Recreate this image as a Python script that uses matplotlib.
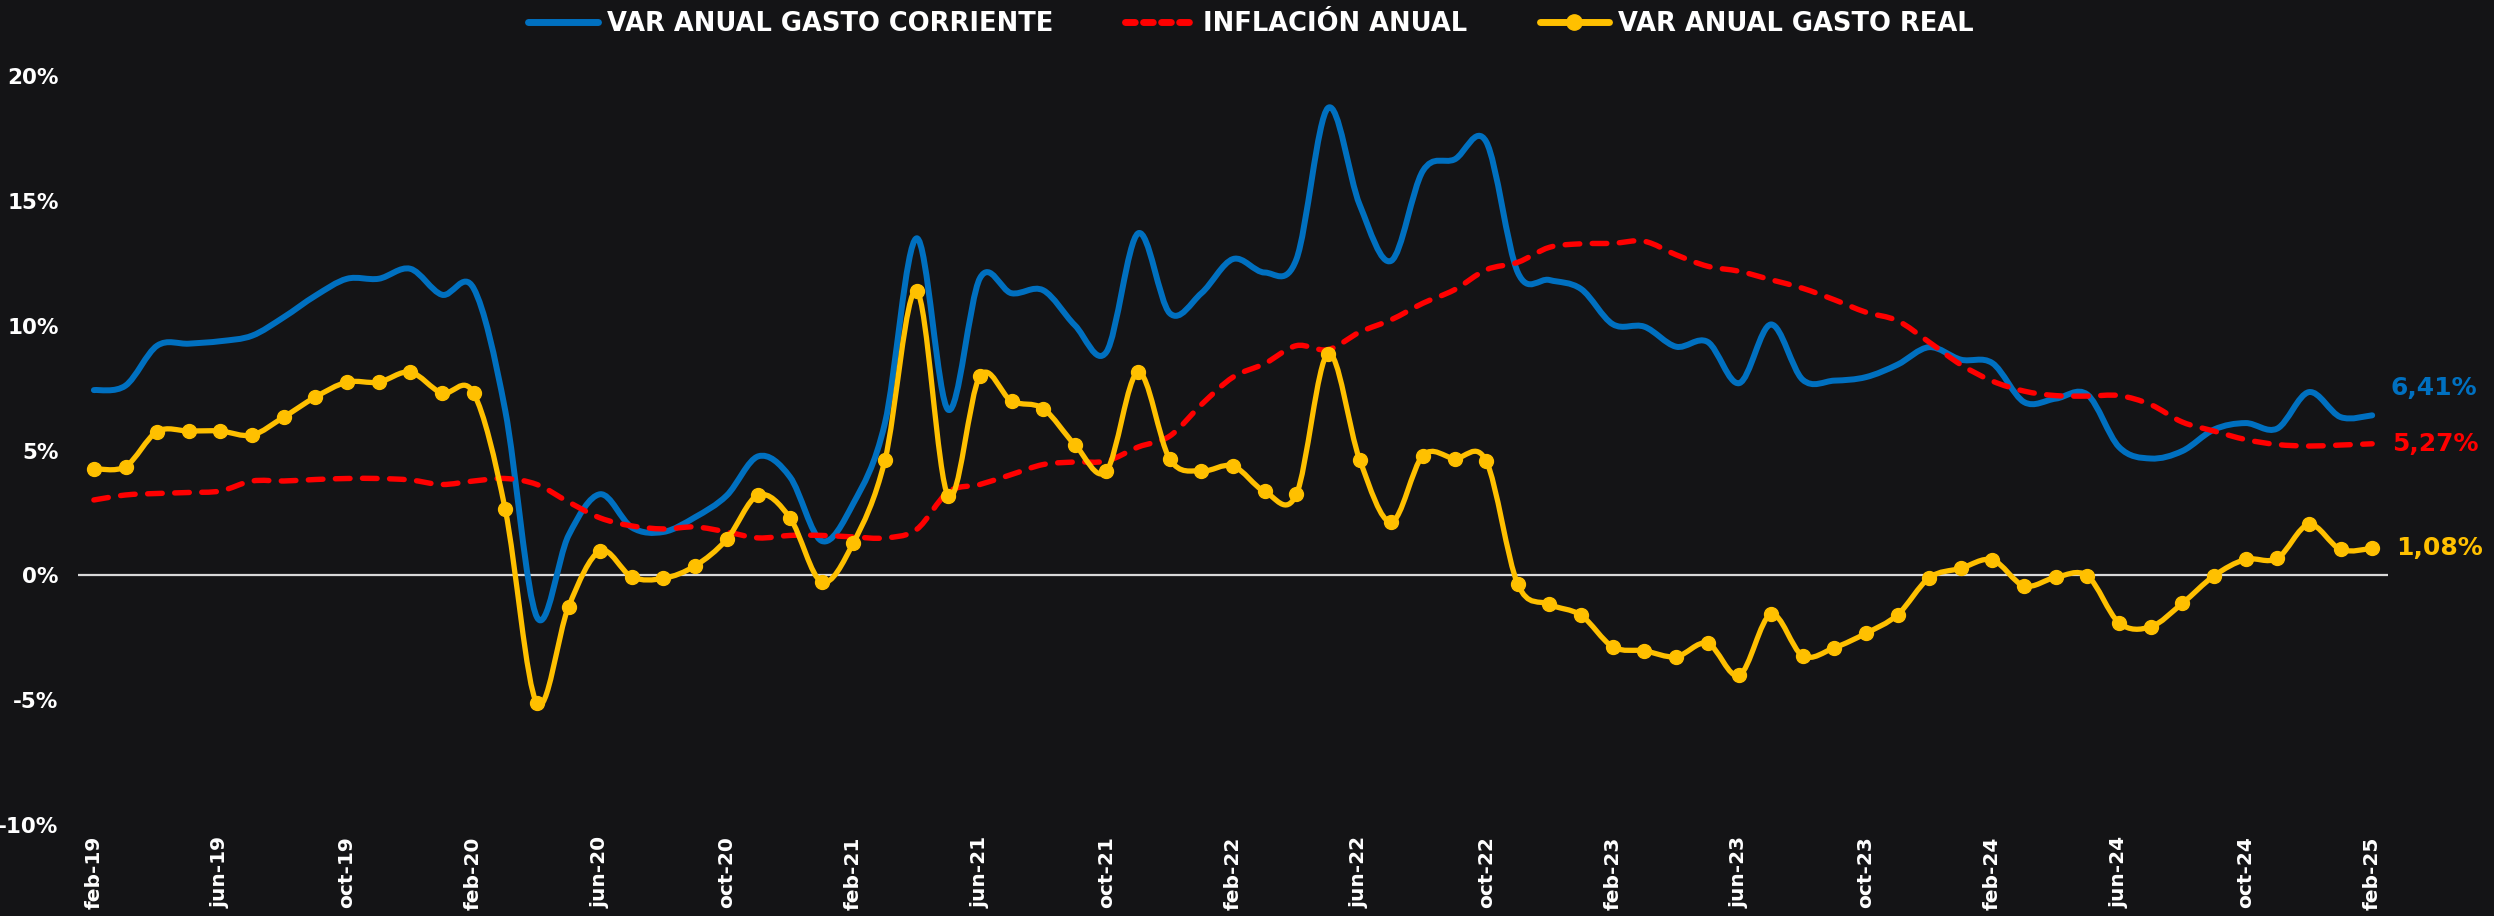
import matplotlib
matplotlib.use("Agg")
import matplotlib.pyplot as plt
from matplotlib.path import Path
from matplotlib.patches import PathPatch
from matplotlib.lines import Line2D

# monthly data feb-19 .. feb-25 (%)
months = ["feb", "mar", "abr", "may", "jun", "jul", "ago", "sep", "oct", "nov", "dic", "ene"]
labels = [f"{months[i % 12]}-{19 + (i + 1) // 12}" for i in range(73)]

gasto_corriente = [
    7.42, 7.6, 9.2, 9.28, 9.38, 9.6, 10.34, 11.2, 11.88, 11.88, 12.28, 11.24,
    11.5, 6.6, -1.67, 1.6, 3.25, 1.92, 1.74, 2.33, 3.2, 4.77, 3.94, 1.38,
    2.88, 6.1, 13.5, 6.63, 11.9, 11.3, 11.42, 10.02, 8.95, 13.7, 10.5, 11.3,
    12.67, 12.13, 12.65, 18.72, 14.85, 12.6, 16.2, 16.66, 17.37, 12.13, 11.83, 11.47,
    10.06, 9.96, 9.16, 9.35, 7.7, 10.05, 7.84, 7.8, 7.94, 8.44, 9.14, 8.64,
    8.5, 6.94, 7.08, 7.24, 5.14, 4.68, 4.98, 5.84, 6.1, 5.88, 7.34, 6.34,
    6.41,
]
inflacion = [
    3.02, 3.22, 3.28, 3.32, 3.38, 3.78, 3.78, 3.84, 3.88, 3.88, 3.82, 3.64,
    3.78, 3.88, 3.64, 2.94, 2.3, 1.98, 1.86, 1.94, 1.74, 1.5, 1.6, 1.6,
    1.54, 1.5, 1.84, 3.34, 3.64, 4.04, 4.44, 4.54, 4.58, 5.14, 5.58, 6.84,
    7.94, 8.48, 9.2, 9.04, 9.74, 10.24, 10.9, 11.44, 12.24, 12.54, 13.14, 13.28,
    13.3, 13.38, 12.84, 12.38, 12.18, 11.84, 11.5, 11.04, 10.54, 10.2, 9.34, 8.44,
    7.78, 7.38, 7.2, 7.18, 7.2, 6.84, 6.14, 5.78, 5.44, 5.24, 5.18, 5.22,
    5.27,
]
gasto_real = [
    4.28, 4.36, 5.76, 5.78, 5.78, 5.62, 6.34, 7.14, 7.74, 7.74, 8.14, 7.3,
    7.3, 2.64, -5.12, -1.26, 0.98, -0.06, -0.12, 0.38, 1.44, 3.22, 2.3, -0.26,
    1.3, 4.62, 11.4, 3.18, 7.98, 6.98, 6.68, 5.24, 4.18, 8.14, 4.66, 4.18,
    4.38, 3.36, 3.24, 8.88, 4.64, 2.14, 4.8, 4.68, 4.58, -0.36, -1.16, -1.6,
    -2.86, -3.02, -3.26, -2.72, -4.0, -1.56, -3.22, -2.9, -2.32, -1.58, -0.1, 0.28,
    0.62, -0.42, -0.08, -0.02, -1.9, -2.06, -1.12, -0.02, 0.64, 0.68, 2.04, 1.04,
    1.08,
]
end_labels = ["6,41%", "5,27%", "1,08%"]
y_ticks = [-10, -5, 0, 5, 10, 15, 20]
y_ticklabels = ["-10%", "-5%", "0%", "5%", "10%", "15%", "20%"]

BG = "#141416"
BLUE = "#0070C0"
RED = "#FF0000"
YELLOW = "#FFC000"


# smoothed line like Excel: cubic bezier through every point
def smooth_path(ys):
    n = len(ys)
    pts = list(zip(range(n), ys))
    verts = [pts[0]]
    codes = [Path.MOVETO]
    for i in range(n - 1):
        x0, y0 = pts[max(i - 1, 0)]
        x1, y1 = pts[i]
        x2, y2 = pts[i + 1]
        x3, y3 = pts[min(i + 2, n - 1)]
        verts += [(x1 + (x2 - x0) / 6, y1 + (y2 - y0) / 6),
                  (x2 - (x3 - x1) / 6, y2 - (y3 - y1) / 6),
                  (x2, y2)]
        codes += [Path.CURVE4] * 3
    return Path(verts, codes)


fig = plt.figure(figsize=(24.94, 9.16), dpi=100, facecolor=BG)
ax = fig.add_axes([0.0313, 0.0993, 0.9262, 0.8177], facecolor=BG)

ax.axhline(0, color="#d9d9d9", lw=1.6, zorder=1)

blue = PathPatch(smooth_path(gasto_corriente), fill=False, edgecolor=BLUE, lw=4.3,
                 capstyle="round", joinstyle="round", zorder=2)
red = PathPatch(smooth_path(inflacion), fill=False, edgecolor=RED, lw=3.9,
                linestyle=(0, (2.7, 2.3)), capstyle="round", zorder=3)
yellow = PathPatch(smooth_path(gasto_real), fill=False, edgecolor=YELLOW, lw=3.8,
                   capstyle="round", joinstyle="round", zorder=4)
for p in (blue, red, yellow):
    ax.add_patch(p)
ax.plot(range(len(gasto_real)), gasto_real, "o", color=YELLOW, ms=10, zorder=5)

n = len(labels)
ax.set_xlim(-0.5, n - 0.5)
ax.set_ylim(-10, 20)
ax.set_yticks(y_ticks)
ax.set_yticklabels(y_ticklabels, color="white", fontsize=15.5, fontweight="bold")
ax.set_xticks(range(0, n, 4))
ax.set_xticklabels(labels[::4], rotation=90, color="white", fontsize=14.5, fontweight="bold")
ax.tick_params(axis="x", length=0, pad=8)
ax.tick_params(axis="y", length=0, pad=14)
for s in ax.spines.values():
    s.set_visible(False)

# end-of-series value labels
last = n - 1
ax.annotate(end_labels[0], (last, gasto_corriente[-1]), xytext=(13, 20), textcoords="offset points",
            color=BLUE, fontsize=18, fontweight="bold", va="center", annotation_clip=False)
ax.annotate(end_labels[1], (last, inflacion[-1]), xytext=(14, 0), textcoords="offset points",
            color=RED, fontsize=18, fontweight="bold", va="center", annotation_clip=False)
ax.annotate(end_labels[2], (last, gasto_real[-1]), xytext=(17, 0), textcoords="offset points",
            color=YELLOW, fontsize=18, fontweight="bold", va="center", annotation_clip=False)

handles = [
    Line2D([], [], color=BLUE, lw=5, solid_capstyle="round"),
    Line2D([], [], color=RED, lw=5, linestyle=(0, (1.4, 1.2)), dash_capstyle="round"),
    Line2D([], [], color=YELLOW, lw=5, marker="o", ms=11, markevery=[1], solid_capstyle="round"),
]
fig.legend(handles, ["VAR ANUAL GASTO CORRIENTE", "INFLACIÓN ANUAL", "VAR ANUAL GASTO REAL"],
           loc="center", bbox_to_anchor=(0.5016, 0.974), ncol=3, frameon=False,
           labelcolor="white", prop={"weight": "bold", "size": 18.5},
           handlelength=2.7, handletextpad=0.35, columnspacing=2.8)

fig.savefig("out.png", dpi=100, facecolor=BG)
